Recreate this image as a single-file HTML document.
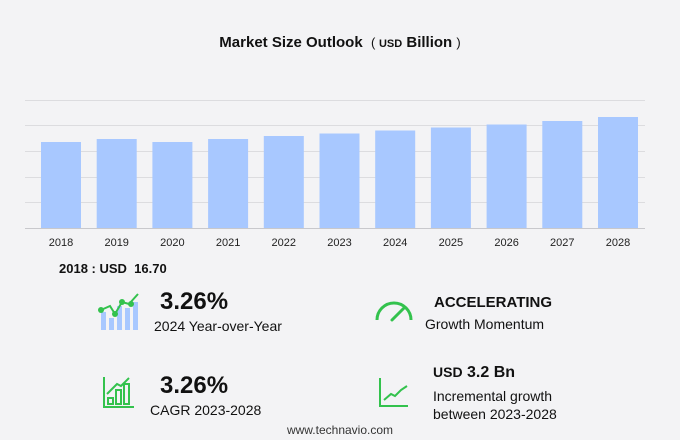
<!DOCTYPE html>
<html><head><style>
body{margin:0;width:680px;height:440px;background:#f3f3f5;font-family:"Liberation Sans",sans-serif;position:relative;overflow:hidden;color:#111}
.a{position:absolute;white-space:nowrap}
</style></head><body>
<div class="a" style="left:0;width:680px;top:34px;text-align:center;font-size:15px;font-weight:bold">Market Size Outlook &nbsp;<span style="font-weight:normal;font-size:13px">( </span><span style="font-size:11px">USD</span> Billion <span style="font-weight:normal;font-size:13px">)</span></div>
<svg class="a" style="left:0;top:0" width="680" height="260">
<g stroke="#dcdcdf">
<line x1="25" x2="645" y1="100.5" y2="100.5"/>
<line x1="25" x2="645" y1="125.5" y2="125.5"/>
<line x1="25" x2="645" y1="151.5" y2="151.5"/>
<line x1="25" x2="645" y1="177.5" y2="177.5"/>
<line x1="25" x2="645" y1="202.5" y2="202.5"/>
</g>
<g fill="#a8c8ff">
<rect x="41" y="142" width="40" height="86"/>
<rect x="96.7" y="139" width="40" height="89"/>
<rect x="152.4" y="142" width="40" height="86"/>
<rect x="208.1" y="139" width="40" height="89"/>
<rect x="263.8" y="136" width="40" height="92"/>
<rect x="319.5" y="133.5" width="40" height="94.5"/>
<rect x="375.2" y="130.5" width="40" height="97.5"/>
<rect x="430.9" y="127.5" width="40" height="100.5"/>
<rect x="486.6" y="124.5" width="40" height="103.5"/>
<rect x="542.3" y="121" width="40" height="107"/>
<rect x="598" y="117" width="40" height="111"/>
</g>
<line x1="25" x2="645" y1="228.5" y2="228.5" stroke="#c8c8cc"/>
<g font-size="11" fill="#222" text-anchor="middle" font-family="Liberation Sans">
<text x="61" y="246">2018</text><text x="116.7" y="246">2019</text><text x="172.4" y="246">2020</text><text x="228.1" y="246">2021</text><text x="283.8" y="246">2022</text><text x="339.5" y="246">2023</text><text x="395.2" y="246">2024</text><text x="450.9" y="246">2025</text><text x="506.6" y="246">2026</text><text x="562.3" y="246">2027</text><text x="618" y="246">2028</text>
</g>
</svg>
<div class="a" style="left:59px;top:261px;font-size:13px;font-weight:bold">2018 : USD &nbsp;16.70</div>
<svg class="a" style="left:98px;top:290px" width="50" height="42">
<g fill="#a8c8ff"><rect x="3" y="22" width="5" height="18"/><rect x="11" y="28" width="5" height="12"/><rect x="19" y="16" width="5" height="24"/><rect x="27" y="18" width="5" height="22"/><rect x="35" y="12" width="5" height="28"/></g>
<polyline points="3,20 12,16 17,24 24,12 31,14 40,4" fill="none" stroke="#33c24d" stroke-width="2"/>
<g fill="#33c24d"><circle cx="3" cy="20" r="3"/><circle cx="17" cy="24" r="3"/><circle cx="24" cy="12" r="3"/><circle cx="33" cy="14" r="3"/></g>
</svg>
<div class="a" style="left:160px;top:288px;font-size:24px;font-weight:bold">3.26%</div>
<div class="a" style="left:154px;top:318px;font-size:14px">2024 Year-over-Year</div>
<svg class="a" style="left:374px;top:298px" width="40" height="26"><path d="M3,22 A17,17 0 0 1 37,22" fill="none" stroke="#33c24d" stroke-width="3"/><line x1="18" y1="22" x2="30" y2="10" stroke="#33c24d" stroke-width="3" stroke-linecap="round"/></svg>
<div class="a" style="left:434px;top:294px;font-size:15px;font-weight:bold">ACCELERATING</div>
<div class="a" style="left:425px;top:316px;font-size:14px">Growth Momentum</div>
<svg class="a" style="left:103px;top:376px" width="32" height="32"><g fill="none" stroke="#33c24d" stroke-width="2"><polyline points="1,1 1,31 31,31"/><rect x="5" y="22" width="5" height="6"/><rect x="13" y="14" width="5" height="14"/><rect x="21" y="8" width="5" height="20"/><polyline points="4,18 14,8 18,10 26,2"/></g></svg>
<div class="a" style="left:160px;top:372px;font-size:24px;font-weight:bold">3.26%</div>
<div class="a" style="left:150px;top:402px;font-size:14px">CAGR 2023-2028</div>
<svg class="a" style="left:379px;top:378px" width="30" height="30"><g fill="none" stroke="#33c24d" stroke-width="2"><polyline points="1,0 1,28 29,28"/><polyline points="5,22 12,16 16,18 22,12 28,8"/></g></svg>
<div class="a" style="left:433px;top:364px;font-size:16px;font-weight:bold"><span style="font-size:14px">USD</span> 3.2 Bn</div>
<div class="a" style="left:433px;top:387px;font-size:14px;line-height:18px">Incremental growth<br>between 2023-2028</div>
<div class="a" style="left:0;width:680px;top:423px;text-align:center;font-size:12px;color:#333">www.technavio.com</div>
</body></html>
